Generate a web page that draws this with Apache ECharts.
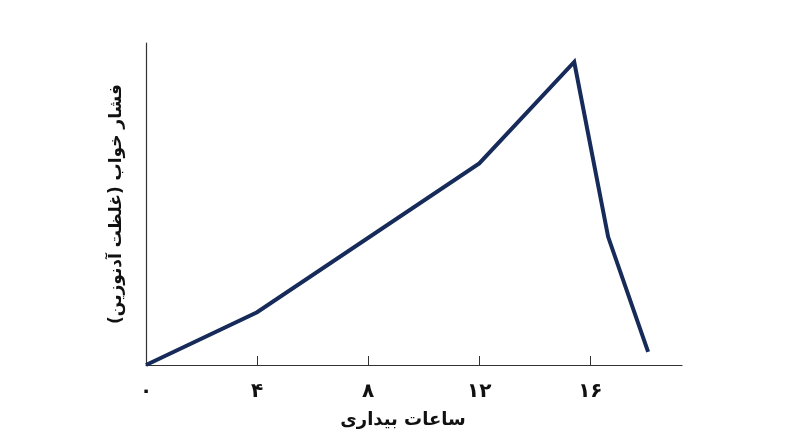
<!DOCTYPE html>
<html>
<head>
<meta charset="utf-8">
<script src="https://cdn.jsdelivr.net/npm/echarts@6/dist/echarts.min.js"></script>
<style>
html,body{margin:0;padding:0;background:#fff;}
#c{width:800px;height:447px;}
</style>
</head>
<body>
<div id="c"></div>
<script>
// Data
const hoursAwake = [0, 4, 12, 15.42, 16.64, 18.08];
const sleepPressure = [0, 16.4, 62.6, 94.1, 39.8, 4.1];
const xTickValues = [0, 4, 8, 12, 16];
const xTickLabels = ['۰', '۴', '۸', '۱۲', '۱۶'];
const xAxisTitle = 'ساعات بیداری';
const yAxisTitle = 'فشار خواب (غلظت آدنوزین)';

const chart = echarts.init(document.getElementById('c'));
const fontFam = '"DejaVu Sans", "Noto Sans", sans-serif';
chart.setOption({
  animation: false,
  backgroundColor: '#ffffff',
  grid: { left: 146, right: 118, top: 43, bottom: 82, containLabel: false },
  xAxis: {
    type: 'value',
    min: 0,
    max: 19.3,
    name: xAxisTitle,
    nameLocation: 'middle',
    nameGap: 46,
    nameTextStyle: { fontFamily: fontFam, fontWeight: 'bold', fontSize: 18, color: '#111', padding: [0, 22, 0, 0] },
    axisLine: { show: true, lineStyle: { color: '#333', width: 1.2 } },
    axisTick: { show: true, inside: true, length: 9, customValues: xTickValues, lineStyle: { color: '#333', width: 1 } },
    axisLabel: {
      customValues: xTickValues,
      margin: 17,
      fontFamily: fontFam, fontWeight: 'bold', fontSize: 20, color: '#111',
      formatter: function (v) { const i = xTickValues.indexOf(v); return i >= 0 ? xTickLabels[i] : ''; }
    },
    splitLine: { show: false }
  },
  yAxis: {
    type: 'value',
    min: 0,
    max: 100,
    name: yAxisTitle,
    nameLocation: 'middle',
    nameRotate: 90,
    nameGap: 21,
    nameTextStyle: { fontFamily: fontFam, fontWeight: 'bold', fontSize: 17, color: '#111' },
    axisLine: { show: true, lineStyle: { color: '#333', width: 1.2 } },
    axisTick: { show: false },
    axisLabel: { show: false },
    splitLine: { show: false }
  },
  series: [{
    type: 'line',
    data: hoursAwake.map((x, i) => [x, sleepPressure[i]]),
    showSymbol: false,
    symbol: 'none',
    lineStyle: { color: '#172b5a', width: 4, join: 'miter' },
    clip: false
  }]
});
</script>
</body>
</html>
